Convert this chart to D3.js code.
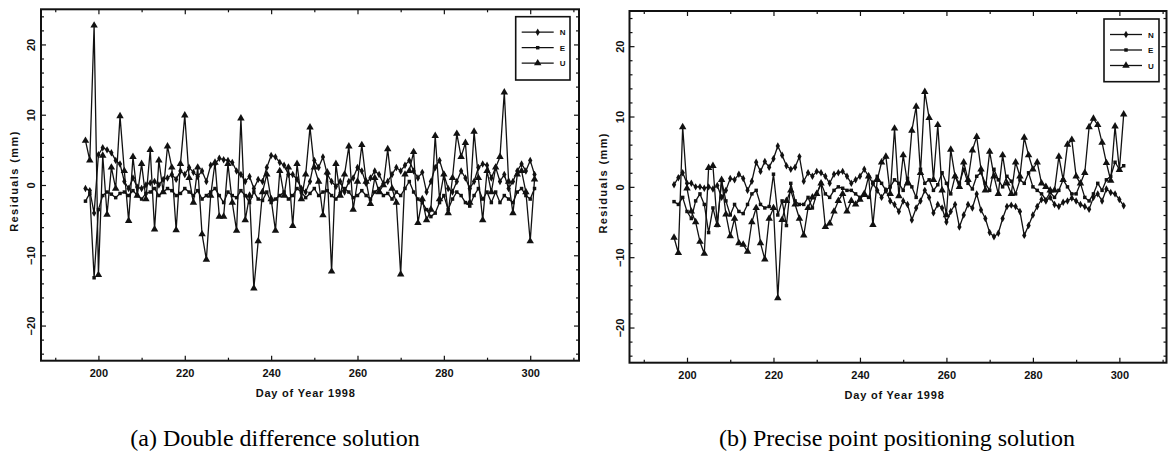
<!DOCTYPE html>
<html>
<head>
<meta charset="utf-8">
<script src="https://cdn.jsdelivr.net/npm/d3@7"></script>
<style>
  html, body { margin: 0; padding: 0; background: #fff; }
  svg { display: block; }
  .ax text { font-family: "Liberation Sans", Arial, sans-serif; font-weight: bold; font-size: 11px; fill: #111; }
  .ax line { stroke: #111; stroke-width: 1.2; }
  .ax path { display: none; }
</style>
</head>
<body>
<svg id="fig" width="1170" height="456"></svg>
<script>
// Day of year 1998
const days = [197,198,199,200,201,202,203,204,205,206,207,208,209,210,211,212,213,214,215,216,
  217,218,219,220,221,222,223,224,225,226,227,228,229,230,231,232,233,234,235,236,
  237,238,239,240,241,242,243,244,245,246,247,248,249,250,251,252,253,254,255,256,
  257,258,259,260,261,262,263,264,265,266,267,268,269,270,271,272,273,274,275,276,
  277,278,279,280,281,282,283,284,285,286,287,288,289,290,291,292,293,294,295,296,
  297,298,299,300,301];

// (a) double difference residuals, mm
const ddN = [-0.5,-0.8,-4.0,4.3,5.3,5.0,4.6,3.5,3.0,0.5,
  -0.5,1.0,-0.3,-0.5,0.0,0.3,0.5,0.0,0.8,1.0,
  1.5,0.8,2.0,1.5,2.5,1.8,1.2,2.0,0.5,2.8,
  3.0,3.8,3.6,3.5,3.2,2.0,1.5,0.5,1.2,-0.5,
  0.8,0.5,2.5,4.2,4.0,3.2,2.8,1.5,1.5,0.8,
  -0.5,-1.0,0.5,3.5,2.5,4.0,1.5,0.5,-0.2,0.5,
  -1.0,0.5,1.0,2.5,2.0,0.2,1.0,2.0,1.5,0.2,
  0.5,1.5,2.5,2.0,2.8,3.5,2.0,1.0,1.8,-1.0,
  0.5,2.5,3.5,1.5,-0.5,-1.0,0.5,2.0,1.0,-0.5,
  0.5,2.5,3.0,2.8,1.0,2.5,0.5,1.5,-0.5,0.5,
  2.0,3.0,2.0,3.5,1.5];
const ddE = [-2.3,-1.2,-13.2,-3.5,-1.5,-1.0,-1.3,-1.8,-1.2,-1.0,
  -1.5,-0.8,-1.5,-2.0,-1.2,-1.0,-0.5,-1.5,-1.0,-0.5,
  -0.8,-1.5,-1.2,-0.5,-1.0,-1.5,-0.8,-2.0,-1.5,-1.0,
  -0.5,-1.5,-2.5,-1.0,-1.5,-1.8,-0.8,-1.5,-2.5,-1.0,
  -2.0,-2.2,-1.0,-2.5,-2.0,-1.5,-1.0,-2.0,-1.5,-0.5,
  -1.0,-1.8,-1.2,-0.5,-1.5,-1.0,-0.8,-1.5,-2.0,-1.2,
  -0.5,-1.0,-1.8,-1.5,-0.8,-1.5,-2.0,-1.0,-0.5,-1.5,
  -1.2,-2.0,-1.0,-1.5,-0.5,0.5,-1.0,-2.0,-2.5,-3.5,
  -4.5,-4.0,-2.5,-1.5,-3.5,-2.0,-1.0,-1.5,-2.5,-3.0,
  -1.5,-0.5,-2.0,-1.0,-2.5,-1.0,-2.5,-1.5,-2.0,-2.5,
  -1.0,-0.5,-1.5,-2.0,-0.5];
const ddU = [6.3,3.5,22.7,-12.8,4.2,-4.2,2.5,-0.5,9.8,2.0,
  -5.1,4.0,-1.5,3.0,-2.0,5.0,-6.3,3.5,-1.0,5.5,
  2.5,-6.4,3.0,9.9,1.0,-2.5,2.5,-7.0,-10.6,-1.5,
  3.2,-4.5,-4.5,3.0,-2.5,-6.5,9.5,-5.0,-1.5,-14.7,
  -8.0,-1.0,1.5,-2.0,-6.5,2.0,-1.5,2.5,-5.8,3.0,
  -2.0,1.5,8.2,2.5,0.5,-4.3,1.8,-12.3,3.0,-1.5,
  1.5,5.5,-3.5,0.5,5.7,0.5,-2.7,1.0,-1.0,0.0,
  5.1,-0.5,-2.5,-12.7,1.5,2.0,4.7,-5.4,-2.0,-5.0,
  -3.5,7.0,-2.0,1.5,-4.0,1.0,7.3,4.0,6.0,-2.5,
  7.6,1.0,-5.0,2.0,-1.0,2.5,4.0,13.2,0.5,-4.0,
  1.5,2.0,-1.0,-8.0,0.8];

// (b) precise point positioning residuals, mm
const pppN = [0.3,1.3,2.0,0.5,0.5,0.0,0.0,-0.2,0.0,-0.3,
  0.2,-1.5,-0.5,1.2,1.0,1.8,1.2,-0.5,0.8,3.5,
  2.2,3.6,2.8,4.0,5.8,4.5,3.0,2.5,2.8,4.3,
  0.8,2.0,1.5,2.2,2.0,1.5,0.5,1.8,2.0,2.2,
  1.5,0.5,1.0,1.5,2.5,1.5,0.5,-0.5,-1.5,-0.5,
  -2.0,-2.5,-3.5,-2.0,-2.5,-4.7,-3.0,-2.0,-0.5,-1.5,
  -3.7,-2.5,-3.0,-5.0,-3.5,-2.5,-5.7,-4.0,-2.5,-3.0,
  -1.0,-3.3,-4.5,-6.5,-7.1,-6.6,-4.5,-2.8,-2.6,-2.8,
  -3.5,-6.9,-5.5,-4.0,-2.8,-1.8,-2.0,-1.5,-2.5,-2.8,
  -2.2,-2.0,-1.6,-2.0,-2.5,-2.8,-3.2,-1.5,-1.0,-2.0,
  -0.3,-0.8,-1.0,-1.8,-2.7];
const pppE = [-2.1,-2.5,-1.5,-3.5,-4.5,-2.0,-1.0,-2.5,-6.5,-3.0,
  -5.5,0.9,-2.0,-4.0,-2.5,-3.5,-3.8,-2.5,-1.0,-0.5,
  -2.5,-3.0,-2.8,1.8,-4.0,-2.0,-5.5,0.5,-2.0,-2.5,
  -2.5,-1.5,-3.0,-1.0,0.5,-1.0,-1.5,-0.5,0.0,-0.2,
  -0.5,-0.5,-1.0,-1.5,-1.2,-1.5,0.5,1.5,0.5,-0.5,
  0.0,1.0,0.5,-0.5,1.2,0.0,-1.5,2.5,0.5,1.0,
  -0.5,0.3,2.0,0.5,-1.0,1.5,0.5,2.5,0.5,-0.3,
  1.5,2.0,0.5,-0.5,2.5,1.0,0.0,1.5,0.8,-1.0,
  1.0,0.5,2.0,0.0,-0.5,-1.0,-1.8,-0.8,-1.5,-0.5,
  1.0,0.0,-1.0,-1.0,0.5,-1.5,-2.0,-1.0,0.5,-0.5,
  1.0,1.5,3.5,2.5,3.0];
const pppU = [-7.2,-9.4,8.5,-0.2,-3.5,-5.0,-7.8,-9.5,2.7,3.0,
  -5.4,1.0,-3.9,-7.0,-4.5,-8.0,-8.2,-9.2,-5.0,-3.0,
  -8.0,-10.3,-4.5,-3.0,-15.8,-4.7,-2.0,-0.5,-2.5,-4.5,
  -6.9,-3.0,-1.5,-1.0,0.5,-5.7,-5.2,-3.5,-2.0,-1.0,
  -3.5,-2.0,-2.5,-1.8,-1.0,1.5,-5.4,1.0,3.5,4.3,
  -1.0,8.3,-1.3,4.5,0.5,8.0,11.4,2.0,13.5,9.8,
  1.0,8.8,-0.5,-4.0,5.3,1.5,0.0,3.5,1.0,5.2,
  7.1,2.5,-0.5,5.0,1.5,-1.0,4.5,0.5,-1.0,3.5,
  1.5,7.0,4.5,2.5,3.5,0.5,0.0,-0.5,-0.5,4.3,
  1.0,6.0,6.7,1.5,0.5,2.0,8.5,9.7,8.8,6.3,
  3.4,0.9,8.6,2.4,10.3];

const seriesNames = ["N", "E", "U"];
const xMajorTicks = [200, 220, 240, 260, 280, 300];
const xMinorTicks = [190, 210, 230, 250, 270, 290, 310];
const yMajorTicks = [-20, -10, 0, 10, 20];
const yMinorTicks = [-24,-22,-18,-16,-14,-12,-8,-6,-4,-2,2,4,6,8,12,14,16,18,22,24];
const yDomain = [-25, 25];
const captions = ["(a) Double difference solution", "(b) Precise point positioning solution"];

const markerShapes = { N: d3.symbolDiamond, E: d3.symbolSquare, U: d3.symbolTriangle };
const markerSizes = { N: 16, E: 12, U: 24 };

const svg = d3.select("#fig");

const panels = [
  { left: 41, right: 579, top: 9.3, bottom: 360.7, xDomain: [186.7, 311.3],
    values: { N: ddN, E: ddE, U: ddU }, caption: captions[0], captionX: 275,
    legend: { x: 515.7, y: 16.7, w: 54.3, h: 63.3 } },
  { left: 629.5, right: 1166.5, top: 11, bottom: 362.7, xDomain: [186.7, 310.9],
    values: { N: pppN, E: pppE, U: pppU }, caption: captions[1], captionX: 897,
    legend: { x: 1104, y: 19, w: 55, h: 62.7 } }
];

panels.forEach(p => {
  const x = d3.scaleLinear().domain(p.xDomain).range([p.left, p.right]);
  const y = d3.scaleLinear().domain(yDomain).range([p.bottom, p.top]);
  const g = svg.append("g");

  // inward ticks on all four sides
  g.append("g").attr("class", "ax").attr("transform", `translate(0,${p.bottom})`)
    .call(d3.axisBottom(x).tickValues(xMajorTicks).tickSizeInner(-5).tickSizeOuter(0).tickPadding(9).tickFormat(d3.format("d")));
  g.append("g").attr("class", "ax").attr("transform", `translate(0,${p.bottom})`)
    .call(d3.axisBottom(x).tickValues(xMinorTicks).tickSizeInner(-3).tickSizeOuter(0).tickFormat(""));
  g.append("g").attr("class", "ax").attr("transform", `translate(0,${p.top})`)
    .call(d3.axisTop(x).tickValues(xMajorTicks).tickSizeInner(-5).tickSizeOuter(0).tickFormat(""));
  g.append("g").attr("class", "ax").attr("transform", `translate(0,${p.top})`)
    .call(d3.axisTop(x).tickValues(xMinorTicks).tickSizeInner(-3).tickSizeOuter(0).tickFormat(""));

  const leftMajor = g.append("g").attr("class", "ax").attr("transform", `translate(${p.left},0)`)
    .call(d3.axisLeft(y).tickValues(yMajorTicks).tickSizeInner(-5).tickSizeOuter(0).tickFormat(d3.format("d")));
  leftMajor.selectAll("text")
    .attr("x", null).attr("dy", null)
    .attr("text-anchor", "middle")
    .attr("transform", "translate(-6,0) rotate(-90)");
  g.append("g").attr("class", "ax").attr("transform", `translate(${p.left},0)`)
    .call(d3.axisLeft(y).tickValues(yMinorTicks).tickSizeInner(-3).tickSizeOuter(0).tickFormat(""));
  g.append("g").attr("class", "ax").attr("transform", `translate(${p.right},0)`)
    .call(d3.axisRight(y).tickValues(yMajorTicks).tickSizeInner(-5).tickSizeOuter(0).tickFormat(""));
  g.append("g").attr("class", "ax").attr("transform", `translate(${p.right},0)`)
    .call(d3.axisRight(y).tickValues(yMinorTicks).tickSizeInner(-3).tickSizeOuter(0).tickFormat(""));

  // plot frame
  g.append("rect")
    .attr("x", p.left).attr("y", p.top)
    .attr("width", p.right - p.left).attr("height", p.bottom - p.top)
    .attr("fill", "none").attr("stroke", "#111").attr("stroke-width", 2);

  // axis titles
  g.append("text")
    .attr("transform", `translate(${p.left - 23},${(p.top + p.bottom) / 2 - 4}) rotate(-90)`)
    .attr("text-anchor", "middle")
    .style("font-family", "'Liberation Sans', Arial, sans-serif")
    .style("font-weight", "bold").style("font-size", "11px").style("letter-spacing", "1.4px")
    .attr("fill", "#111")
    .text("Residuals (mm)");
  g.append("text")
    .attr("x", x(248)).attr("y", p.bottom + 36)
    .attr("text-anchor", "middle")
    .style("font-family", "'Liberation Sans', Arial, sans-serif")
    .style("font-weight", "bold").style("font-size", "11px").style("letter-spacing", "0.8px")
    .attr("fill", "#111")
    .text("Day of Year 1998");

  // residual series
  const line = d3.line().x((d, i) => x(days[i])).y(d => y(d));
  seriesNames.forEach(name => {
    const vals = p.values[name];
    g.append("path").datum(vals)
      .attr("d", line)
      .attr("fill", "none").attr("stroke", "#111").attr("stroke-width", 1.3)
      .attr("stroke-linejoin", "round");
    g.append("g").selectAll("path").data(vals).join("path")
      .attr("transform", (d, i) => `translate(${x(days[i])},${y(d)})`)
      .attr("d", d3.symbol(markerShapes[name], markerSizes[name]))
      .attr("fill", "#111");
  });

  // legend
  const L = p.legend;
  const lg = g.append("g");
  lg.append("rect")
    .attr("x", L.x).attr("y", L.y).attr("width", L.w).attr("height", L.h)
    .attr("fill", "#fff").attr("stroke", "#111").attr("stroke-width", 1.6);
  seriesNames.forEach((name, k) => {
    const ly = L.y + 15.5 + k * 15.5;
    const lx1 = L.x + 6, lx2 = L.x + 38;
    lg.append("line").attr("x1", lx1).attr("x2", lx2).attr("y1", ly).attr("y2", ly)
      .attr("stroke", "#111").attr("stroke-width", 1.3);
    lg.append("path")
      .attr("transform", `translate(${(lx1 + lx2) / 2},${ly})`)
      .attr("d", d3.symbol(markerShapes[name], markerSizes[name]))
      .attr("fill", "#111");
    lg.append("text")
      .attr("x", L.x + 44).attr("y", ly + 3)
      .style("font-family", "'Liberation Sans', Arial, sans-serif")
      .style("font-weight", "bold").style("font-size", "8px")
      .attr("fill", "#111")
      .text(name);
  });

  // caption
  svg.append("text")
    .attr("x", p.captionX).attr("y", 446)
    .attr("text-anchor", "middle")
    .style("font-family", "'Liberation Serif', 'Times New Roman', serif")
    .style("font-size", "24px")
    .attr("fill", "#000")
    .text(p.caption);
});
</script>
</body>
</html>
